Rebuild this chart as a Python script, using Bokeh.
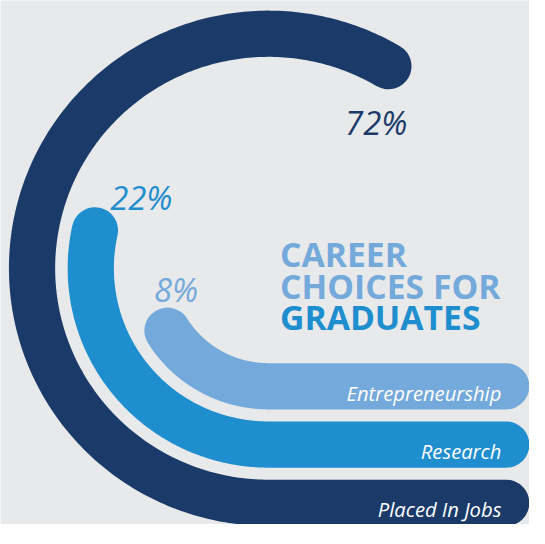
import math
from bokeh.plotting import figure
from bokeh.models import Range1d, ColumnDataSource
from bokeh.core.properties import value
from bokeh.embed import file_html
from bokeh.resources import INLINE

# ---- data ----
categories = ["Placed In Jobs", "Research", "Entrepreneurship"]
values = [72, 22, 8]
pct_labels = ["72%", "22%", "8%"]
title_lines = ["CAREER", "CHOICES FOR", "GRADUATES"]

# ---- style ----
COLORS = ["#1a3b69", "#1e8ecf", "#74a9db"]
TITLE_COLORS = ["#74a9db", "#74a9db", "#1e8ecf"]
BG = "#e8e9eb"
FONT = "Open Sans"

# design space 545 x 544, drawn into a figure that fits inside the page margins
DW, DH = 545, 544
W, H = 529, 524
K = min(W / DW, H / DH)  # screen px per design unit (for widths / fonts)


def fs(v):
    return "%.1fpx" % (v * K)


p = figure(width=W, height=H, output_backend="svg", toolbar_location=None,
           x_range=Range1d(0, DW), y_range=Range1d(DH, 0), min_border=0)
p.axis.visible = False
p.grid.visible = False
p.outline_line_color = None
p.background_fill_color = BG
p.border_fill_color = BG

# geometry of the rings (design units)
CX, CY = 276, 278
R0, STEP, THICK = 243.5, 60.5, 48
BAR_END_X = 521


def sweep(v):
    # angular sweep (degrees) of the curved part for a value
    return 11.36 + 11.84 * v ** 0.66


ends = []
for i, v in enumerate(values):
    r = R0 - STEP * i
    s = sweep(v)
    n = 240
    xs = [BAR_END_X]
    ys = [CY + r]
    for k in range(n + 1):
        t = math.radians(s * k / n)
        xs.append(CX - r * math.sin(t))
        ys.append(CY + r * math.cos(t))
    p.line(xs, ys, line_color=COLORS[i], line_width=THICK * K,
           line_cap="round", line_join="round")
    ends.append((xs[-1], ys[-1]))

# category labels inside the horizontal bars
bar_src = ColumnDataSource(dict(
    x=[516] * len(categories),
    y=[CY + (R0 - STEP * i) + 6.5 for i in range(len(categories))],
    text=categories,
))
p.text(x="x", y="y", text="text", source=bar_src, text_color="white",
       text_font=value(FONT), text_font_style="italic", text_font_size=fs(21),
       text_align="right", text_baseline="alphabetic")

# percentage labels near the arc ends
LABEL_OFFSETS = [(-44.6, 58.8), (15.7, -33.7), (-14, -42.7)]
pct_src = ColumnDataSource(dict(
    x=[ends[i][0] + LABEL_OFFSETS[i][0] for i in range(len(values))],
    y=[ends[i][1] + LABEL_OFFSETS[i][1] for i in range(len(values))],
    text=pct_labels,
    color=COLORS,
))
p.text(x="x", y="y", text="text", source=pct_src, text_color="color",
       text_font=value(FONT), text_font_style="italic", text_font_size=fs(34),
       text_align="left", text_baseline="alphabetic")

# title
title_src = ColumnDataSource(dict(
    x=[288] * len(title_lines),
    y=[263 + 33 * i for i in range(len(title_lines))],
    text=title_lines,
    color=TITLE_COLORS,
))
p.text(x="x", y="y", text="text", source=title_src, text_color="color",
       text_font=value(FONT), text_font_style="bold", text_font_size=fs(35),
       text_align="left", text_baseline="alphabetic")

open("out.html", "w").write(file_html(p, INLINE))
